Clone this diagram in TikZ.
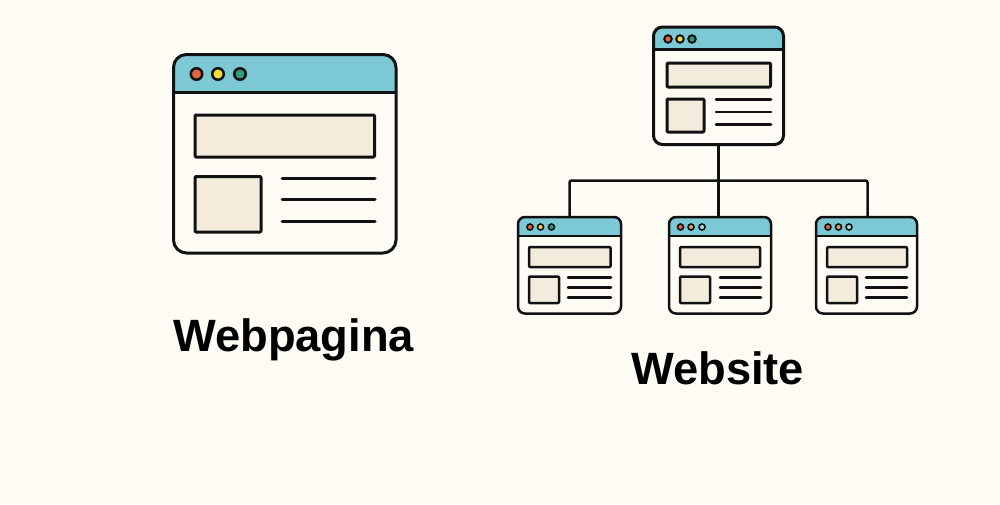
\documentclass[tikz,border=0pt]{standalone}
\usepackage{fontspec}
\setmainfont{Liberation Sans}
\definecolor{pagebg}{HTML}{FFFCF5}
\definecolor{hdrblue}{HTML}{7CC8D5}
\definecolor{beige}{HTML}{F3ECDD}
\definecolor{inkk}{HTML}{111111}
\definecolor{dred}{HTML}{E4663F}
\definecolor{dyel}{HTML}{F6DD3C}
\definecolor{dgrn}{HTML}{2F9C7D}
\definecolor{dtan}{HTML}{D9A27A}
\definecolor{dsky}{HTML}{A9DCE3}
\tikzset{
  rectbox/.style={draw=inkk,rectangle,inner sep=0pt,outer sep=0pt,line join=round},
  wire/.style={draw=inkk,line width=2.5pt,rounded corners=2pt,line cap=round},
  textline/.style={draw=inkk,line cap=round},
  dotmark/.style={draw=inkk,circle,inner sep=0pt,outer sep=0pt},
  caption/.style={font=\fontsize{45.3}{50}\selectfont\bfseries,text=black,anchor=base west,inner sep=0pt}
}
% name, l, t, r, b, header y, corner radius, line width
\newcommand{\winframe}[8]{%
  \fill[hdrblue,rounded corners=#7pt] (#2,#6) -- (#2,#3) -- (#4,#3) [sharp corners] -- (#4,#6) -- cycle;
  \draw[inkk,line width=#8pt] (#2,#6) -- (#4,#6);
  \node[rectbox,rounded corners=#7pt,line width=#8pt,minimum width={(#4-#2)*1pt},minimum height={(#5-#3)*1pt}] (#1) at ({(#2+#4)/2},{(#3+#5)/2}) {};
}
% name, l, t, r, b, line width
\newcommand{\beigebox}[6]{%
  \node[rectbox,fill=beige,rounded corners=1pt,line width=#6pt,minimum width={(#4-#2)*1pt},minimum height={(#5-#3)*1pt}] (#1) at ({(#2+#4)/2},{(#3+#5)/2}) {};
}
% l, r, y1, y2, y3, line width
\newcommand{\txtlines}[6]{%
  \draw[textline,line width=#6pt] (#1,#3) -- (#2,#3) (#1,#4) -- (#2,#4) (#1,#5) -- (#2,#5);
}
% name, x, y, diameter, line width, colour
\newcommand{\wdot}[6]{%
  \node[dotmark,fill=#6,minimum size=#4pt,line width=#5pt] (#1) at (#2,#3) {};
}
\begin{document}
\begin{tikzpicture}[x=1pt,y=-1pt]
\useasboundingbox (0,0) rectangle (1000,504);
\fill[pagebg] (0,0) rectangle (1000,504);

% Webpagina window
\winframe{big}{173.5}{54.5}{396}{253}{92.5}{13}{3}
\beigebox{bigban}{195}{115}{374.5}{157}{3}
\beigebox{bigsq}{195}{176.5}{261}{232}{3}
\txtlines{282}{375}{178}{199.5}{221}{3}
\wdot{bigd1}{196.5}{74}{11.5}{2.5}{dred}
\wdot{bigd2}{218}{74}{11.5}{2.5}{dyel}
\wdot{bigd3}{240}{74}{11.5}{2.5}{dgrn}

% Website top window
\winframe{top}{653.5}{27}{783.5}{144.5}{49.5}{9}{3}
\beigebox{topban}{667}{63}{770.5}{87}{3}
\beigebox{topsq}{667}{99}{704}{132}{3}
\txtlines{716}{771}{99.5}{112}{124.5}{2.5}
\wdot{topd1}{668}{39}{7.5}{2}{dred}
\wdot{topd2}{680}{39}{7.5}{2}{dyel}
\wdot{topd3}{692}{39}{7.5}{2}{dgrn}

% Left child
\winframe{cha}{518}{217}{621}{313.5}{236}{7}{2.5}
\beigebox{chaban}{529}{247}{610.5}{267}{2.5}
\beigebox{chasq}{529}{276.5}{559}{303}{2.5}
\txtlines{568}{611}{277.5}{287.5}{297.5}{2.5}
\wdot{chad1}{530}{227}{6}{1.6}{dred}
\wdot{chad2}{540.5}{227}{6}{1.6}{dyel}
\wdot{chad3}{551.5}{227}{6}{1.6}{dgrn}

% Middle child
\winframe{chb}{669}{217}{771}{313.5}{236}{7}{2.5}
\beigebox{chbban}{680}{247}{760}{267}{2.5}
\beigebox{chbsq}{680}{276.5}{710}{303}{2.5}
\txtlines{720}{761}{277.5}{287.5}{297.5}{2.5}
\wdot{chbd1}{680.5}{227}{6}{1.6}{dred}
\wdot{chbd2}{691}{227}{6}{1.6}{dtan}
\wdot{chbd3}{702}{227}{6}{1.6}{dsky}

% Right child
\winframe{chc}{816}{217}{917}{313.5}{236}{7}{2.5}
\beigebox{chcban}{827}{247}{907}{267}{2.5}
\beigebox{chcsq}{827}{276.5}{857}{303}{2.5}
\txtlines{866}{907}{277.5}{287.5}{297.5}{2.5}
\wdot{chcd1}{828}{227}{6}{1.6}{dred}
\wdot{chcd2}{838.5}{227}{6}{1.6}{dtan}
\wdot{chcd3}{849}{227}{6}{1.6}{dsky}

% Connectors
\coordinate (hub) at (718,180.5);
\draw[wire] (top.south) -- (top.south |- chb.north);
\draw[wire] (cha.north) |- (hub);
\draw[wire] ([xshift=1pt]chc.north) |- (hub);

% Labels
\node[caption] (lab1) at (173,351) {Webpagina};
\node[caption] (lab2) at (631,384) {Website};
\end{tikzpicture}
\end{document}
